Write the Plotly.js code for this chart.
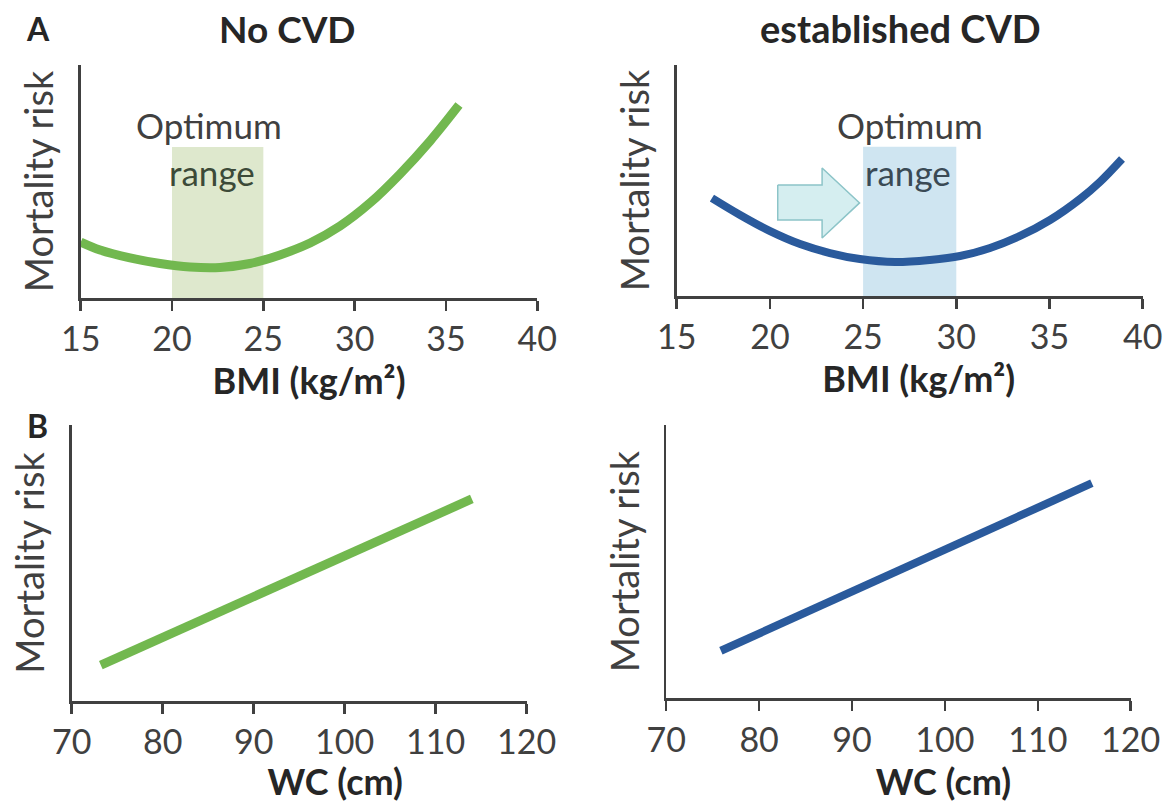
<!DOCTYPE html>
<html>
<head>
<meta charset="utf-8">
<script src="https://cdn.plot.ly/plotly-3.0.1.min.js"></script>
<style>html,body{margin:0;padding:0;background:#fff;}#chart{width:1173px;height:803px;}</style>
</head>
<body>
<div id="chart"></div>
<script>
// ---- data ----
const bmiTicks = [15, 20, 25, 30, 35, 40];
const wcTicks = [70, 80, 90, 100, 110, 120];

// Panel A, no CVD: BMI vs relative mortality risk (arbitrary units 0-100)
const noCvdBmi  = [15.0, 16.06, 17.70, 19.35, 20.98, 22.63, 24.27, 25.91, 27.56, 29.20, 30.84, 32.48, 34.13, 35.71];
const noCvdRisk = [24.0, 20.6, 17.2, 14.8, 13.3, 13.1, 14.8, 18.5, 23.6, 30.9, 40.8, 53.2, 67.4, 82.8];

// Panel A, established CVD
const cvdBmi  = [16.89, 18.40, 20.01, 21.62, 23.22, 24.83, 26.71, 28.59, 30.20, 31.81, 33.42, 35.03, 36.64, 37.71, 38.89];
const cvdRisk = [42.4, 35.1, 28.1, 22.5, 18.6, 16.0, 14.7, 15.6, 17.3, 20.8, 26.0, 32.9, 42.0, 49.4, 59.3];

// Optimum BMI ranges and their shaded height
const optimumNoCvd = [20, 25];
const optimumCvd = [25, 30];
const optimumHeight = [64.8, 64.6];

// Shift arrow (established CVD panel)
const arrowX = [20.42, 22.8, 22.8, 24.81, 22.8, 22.8, 20.42, 20.42];
const arrowY = [48.1, 48.1, 55.4, 40.3, 25.1, 32.9, 32.9, 48.1];

// Panel B: waist circumference vs mortality risk
const noCvdWc = [73.2, 113.97];
const noCvdWcRisk = [13.0, 73.2];
const cvdWc = [75.89, 115.82];
const cvdWcRisk = [17.4, 78.7];

// ---- styles ----
const FONT = 'Lato, "Open Sans", sans-serif';
const GREEN = '#72b84f';
const BLUE = '#2a5a9c';
const AXIS = '#404040';
const EN = '&#8194;';

function xAxis(domain, range, ticks, title, anchor) {
  return {
    domain: domain, range: range, anchor: anchor,
    tickvals: ticks, ticktext: ticks.map(String),
    showline: true, linecolor: AXIS, linewidth: 2.5,
    ticks: 'outside', ticklen: 10, tickwidth: 2.5, tickcolor: AXIS,
    showgrid: false, zeroline: false, fixedrange: true,
    tickfont: {family: FONT, size: 34, color: AXIS},
    title: {text: title, font: {family: FONT, size: 36, color: '#262626', weight: 'bold'}, standoff: 0},
    automargin: false
  };
}
function yAxis(domain, anchor) {
  return {
    domain: domain, range: [0, 100], anchor: anchor,
    showline: true, linecolor: AXIS, linewidth: 2.5,
    ticks: '', showticklabels: false,
    showgrid: false, zeroline: false, fixedrange: true,
    title: {text: 'Mortality risk', font: {family: FONT, size: 38, color: AXIS}, standoff: 13},
    automargin: false
  };
}

const traces = [
  {x: noCvdBmi, y: noCvdRisk, xaxis: 'x', yaxis: 'y', mode: 'lines',
   line: {color: GREEN, width: 9, shape: 'spline', smoothing: 1}, hoverinfo: 'skip'},
  {x: arrowX, y: arrowY, xaxis: 'x2', yaxis: 'y2', mode: 'lines', fill: 'toself',
   fillcolor: '#d5eef0', line: {color: '#8cc4c8', width: 1.5}, hoverinfo: 'skip'},
  {x: cvdBmi, y: cvdRisk, xaxis: 'x2', yaxis: 'y2', mode: 'lines',
   line: {color: BLUE, width: 8, shape: 'spline', smoothing: 1}, hoverinfo: 'skip'},
  {x: noCvdWc, y: noCvdWcRisk, xaxis: 'x3', yaxis: 'y3', mode: 'lines',
   line: {color: GREEN, width: 9}, hoverinfo: 'skip'},
  {x: cvdWc, y: cvdWcRisk, xaxis: 'x4', yaxis: 'y4', mode: 'lines',
   line: {color: BLUE, width: 8}, hoverinfo: 'skip'}
];

const W = 1173, H = 803;
const px = v => v / W, py = v => (H - v) / H;

function label(text, x, y, size, color, xref, yref) {
  return {text: text, xref: xref || 'paper', yref: yref || 'paper', x: x, y: y,
          xanchor: 'center', yanchor: 'middle', showarrow: false,
          font: {family: FONT, size: size, color: color}};
}

const layout = {
  width: W, height: H,
  margin: {l: 0, r: 0, t: 0, b: 0},
  paper_bgcolor: '#fff', plot_bgcolor: 'rgba(0,0,0,0)',
  showlegend: false,
  font: {family: FONT, color: AXIS},
  xaxis:  xAxis([px(80.7), px(537.3)], [15, 40], bmiTicks, 'BMI (kg/m²)', 'y'),
  yaxis:  yAxis([py(298), py(65)], 'x'),
  xaxis2: xAxis([px(676.7), px(1142.7)], [15, 40], bmiTicks, EN + 'BMI (kg/m²)', 'y2'),
  yaxis2: yAxis([py(296), py(65)], 'x2'),
  xaxis3: xAxis([px(71.7), px(526.7)], [70, 120], wcTicks, EN.repeat(4) + 'WC (cm)', 'y3'),
  yaxis3: yAxis([py(701), py(425)], 'x3'),
  xaxis4: xAxis([px(666.2), px(1130.7)], [70, 120], wcTicks, EN.repeat(5) + 'WC (cm)', 'y4'),
  yaxis4: yAxis([py(698.3), py(425)], 'x4'),
  shapes: [
    {type: 'rect', xref: 'x', yref: 'y', x0: optimumNoCvd[0], x1: optimumNoCvd[1], y0: 0, y1: optimumHeight[0],
     fillcolor: '#dee8cd', line: {width: 0}, layer: 'below'},
    {type: 'rect', xref: 'x2', yref: 'y2', x0: optimumCvd[0], x1: optimumCvd[1], y0: 0, y1: optimumHeight[1],
     fillcolor: '#cfe5f1', line: {width: 0}, layer: 'below'}
  ],
  annotations: [
    label('<b>A</b>', px(37.6), py(28), 32, '#262626'),
    label('<b>B</b>', px(37.6), py(425), 32, '#262626'),
    label('<b>No CVD</b>', px(287.6), py(28), 37, '#262626'),
    label('<b>established CVD</b>', px(900), py(28), 38, '#262626'),
    label('Optimum', 22.0, 74.2, 35, AXIS, 'x', 'y'),
    label('range', 22.2, 54.1, 35, '#3c4a38', 'x', 'y'),
    label('Optimum', 27.5, 74.0, 35, AXIS, 'x2', 'y2'),
    label('range', 27.4, 53.7, 35, '#3a4a55', 'x2', 'y2')
  ]
};

Plotly.newPlot('chart', traces, layout, {displayModeBar: false, staticPlot: true});
</script>
</body>
</html>
